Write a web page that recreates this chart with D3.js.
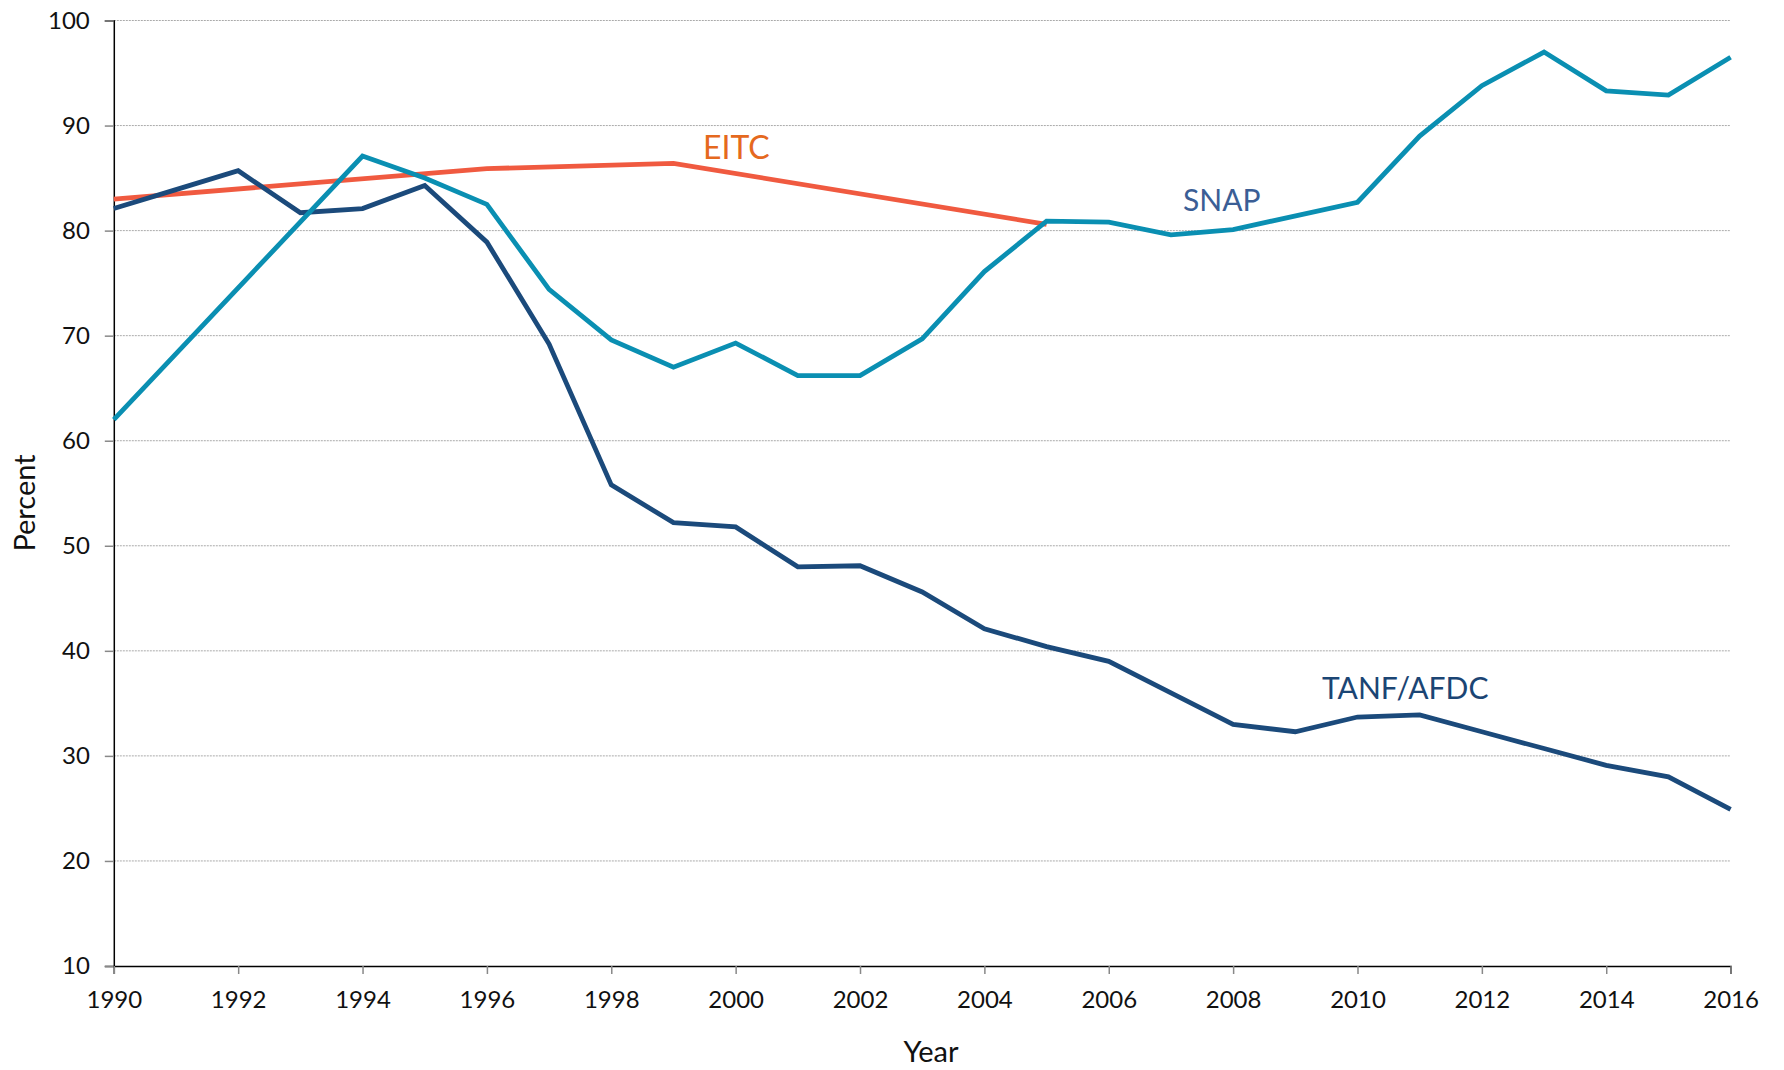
<!DOCTYPE html>
<html><head><meta charset="utf-8">
<script src="https://cdn.jsdelivr.net/npm/d3@7"></script>
<style>body{margin:0;background:#fff}svg{display:block;font-family:Lato,"Open Sans",sans-serif}</style>
</head><body><svg id="c" width="1784" height="1070"></svg>
<script>
const tanfYears = [1990,1991,1992,1993,1994,1995,1996,1997,1998,1999,2000,2001,2002,2003,2004,2005,2006,2007,2008,2009,2010,2011,2012,2013,2014,2015,2016];
const tanfValues = [82.1,83.9,85.7,81.7,82.1,84.3,78.9,69.2,55.8,52.2,51.8,48.0,48.1,45.6,42.1,40.4,39.0,36.0,33.0,32.3,33.7,33.9,32.3,30.7,29.1,28.0,24.9];
const snapYears = [1990,1994,1995,1996,1997,1998,1999,2000,2001,2002,2003,2004,2005,2006,2007,2008,2010,2011,2012,2013,2014,2015,2016];
const snapValues = [62.0,87.1,85.0,82.5,74.4,69.6,67.0,69.3,66.2,66.2,69.7,76.1,80.9,80.8,79.6,80.1,82.7,89.0,93.8,97.0,93.3,92.9,96.5];
const eitcYears = [1990,1996,1999,2005];
const eitcValues = [83.0,85.9,86.4,80.6];
const xTicks = [1990,1992,1994,1996,1998,2000,2002,2004,2006,2008,2010,2012,2014,2016];
const yTicks = [10,20,30,40,50,60,70,80,90,100];

const svg = d3.select("#c");
const x = d3.scaleLinear().domain([1990,2016]).range([113.8,1730.6]);
const y = d3.scaleLinear().domain([10,100]).range([966,20.5]);

// gridlines
svg.append("g").selectAll("line").data(yTicks.filter(d=>d>10)).join("line")
  .attr("x1",x(1990)).attr("x2",x(2016)).attr("y1",d=>y(d)).attr("y2",d=>y(d))
  .attr("stroke","#aaa").attr("stroke-width",1).attr("stroke-dasharray","2,1");

// y axis
const ya = svg.append("g").attr("transform",`translate(${x(1990)},0)`)
  .call(d3.axisLeft(y).tickValues(yTicks).tickSize(9).tickPadding(15).tickFormat(d3.format("d")));
ya.select(".domain").attr("stroke","#000").attr("stroke-width",1.5);
ya.selectAll(".tick line").attr("stroke","#888").attr("stroke-width",1.5);
ya.selectAll("text").attr("font-size",24).attr("fill","#111").attr("font-family","Lato");

// x axis
const xa = svg.append("g").attr("transform",`translate(0,${y(10)})`)
  .call(d3.axisBottom(x).tickValues(xTicks).tickSize(8).tickPadding(17).tickFormat(d3.format("d")));
xa.select(".domain").attr("stroke","#000").attr("stroke-width",1.5);
xa.selectAll(".tick line").attr("stroke","#888").attr("stroke-width",1.5);
xa.selectAll("text").attr("font-size",24).attr("fill","#111").attr("font-family","Lato");

// axis titles
svg.append("text").attr("x",931).attr("y",1062).attr("text-anchor","middle")
  .attr("font-size",29).attr("fill","#111").text("Year");
svg.append("text").attr("transform","translate(35,503) rotate(-90)").attr("text-anchor","middle")
  .attr("font-size",29).attr("fill","#111").text("Percent");

const line = d3.line().x(d=>x(d[0])).y(d=>y(d[1]));
const series = [
  {years: eitcYears, values: eitcValues, color:"#f05a40"},
  {years: tanfYears, values: tanfValues, color:"#1b4a7b"},
  {years: snapYears, values: snapValues, color:"#0a8fb2"}
];
series.forEach(s=>{
  svg.append("path").datum(s.years.map((yr,i)=>[yr,s.values[i]]))
    .attr("d",line).attr("fill","none").attr("stroke",s.color)
    .attr("stroke-width",4.8).attr("stroke-linejoin","miter");
});

// series labels
svg.append("text").attr("x",703).attr("y",159).attr("font-size",32).attr("fill","#e5691e").text("EITC");
svg.append("text").attr("x",1183).attr("y",211).attr("font-size",30).attr("fill","#3b5e95").text("SNAP");
svg.append("text").attr("x",1322).attr("y",699).attr("font-size",30).attr("fill","#1b4574").text("TANF/AFDC");
</script></body></html>
